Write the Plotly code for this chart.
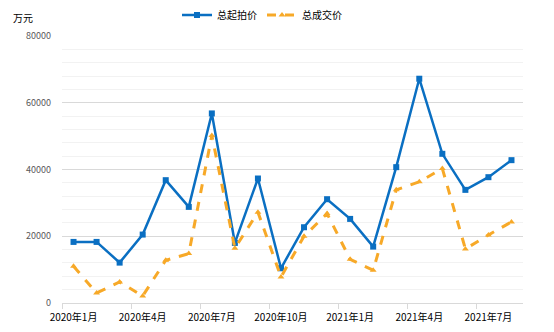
import plotly.graph_objects as go

months = ["2020年1月", "2020年2月", "2020年3月", "2020年4月", "2020年5月", "2020年6月",
          "2020年7月", "2020年8月", "2020年9月", "2020年10月", "2020年11月", "2020年12月",
          "2021年1月", "2021年2月", "2021年3月", "2021年4月", "2021年5月", "2021年6月",
          "2021年7月", "2021年8月"]
start_price = [18300, 18300, 12100, 20500, 36800, 28800, 56800, 18000, 37300, 10400,
               22700, 31100, 25200, 16900, 40700, 67200, 44700, 33900, 37700, 42800]
deal_price = [11000, 3000, 6300, 2100, 12800, 14800, 50200, 16400, 27200, 7800,
              20000, 26800, 13100, 9800, 33900, 36300, 40300, 16200, 20400, 24300]
tick_idx = [0, 3, 6, 9, 12, 15, 18]
tick_text = ["2020年1月", "2020年4月", "2020年7月", "2020年10月", "2021年1月", "2021年4月", "2021年7月"]

FONT = "Noto Sans CJK SC"
x = list(range(len(months)))

fig = go.Figure()
fig.add_trace(go.Scatter(
    x=x, y=start_price, name="总起拍价", mode="lines+markers",
    line=dict(color="#0A6FC2", width=2.5),
    marker=dict(symbol="square", size=6, color="#0A6FC2"),
    customdata=months, hovertemplate="%{customdata}: %{y}<extra></extra>"))
fig.add_trace(go.Scatter(
    x=x, y=deal_price, name="总成交价", mode="lines+markers",
    line=dict(color="#F7A928", width=3, dash="dash"),
    marker=dict(symbol="triangle-up", size=6, color="#F7A928"),
    customdata=months, hovertemplate="%{customdata}: %{y}<extra></extra>"))

fig.update_layout(
    width=554, height=332,
    margin=dict(l=62, r=31, t=36, b=29, autoexpand=False),
    paper_bgcolor="white", plot_bgcolor="white",
    font=dict(family=FONT, size=10, color="#000000"),
    showlegend=True,
    legend=dict(orientation="h", x=262 / 554, xanchor="center", y=1 - 15 / 332, yanchor="middle",
                yref="container", xref="container", font=dict(size=10, color="#000000"),
                itemwidth=30, tracegroupgap=0, bgcolor="rgba(0,0,0,0)"),
    xaxis=dict(
        range=[-0.5, len(months) - 0.5],
        tickmode="array", tickvals=tick_idx, ticktext=tick_text,
        showgrid=False, zeroline=False,
        showline=True, linecolor="#D9D9D9", linewidth=1,
        ticks="", tickfont=dict(size=10, color="#000000"),
        ticklabelstandoff=5,
        minor=dict(ticks="outside", tick0=-0.5, dtick=3, ticklen=5,
                   tickcolor="#D9D9D9", showgrid=False),
    ),
    yaxis=dict(
        range=[0, 80000], dtick=20000, tick0=0,
        showgrid=True, gridcolor="#D9D9D9", gridwidth=1,
        zeroline=False, showline=False, ticks="",
        tickformat="d", tickfont=dict(size=9, color="#595959"),
        ticklabelstandoff=10,
        minor=dict(dtick=4000, showgrid=True, gridcolor="#F2F2F2", gridwidth=1),
    ),
)
fig.add_annotation(text="万元", xref="paper", yref="paper", x=-0.11, y=(303 - 17) / 267,
                   yanchor="middle", xanchor="left", showarrow=False,
                   font=dict(size=10, color="#000000"))

fig.write_html("out.html")
